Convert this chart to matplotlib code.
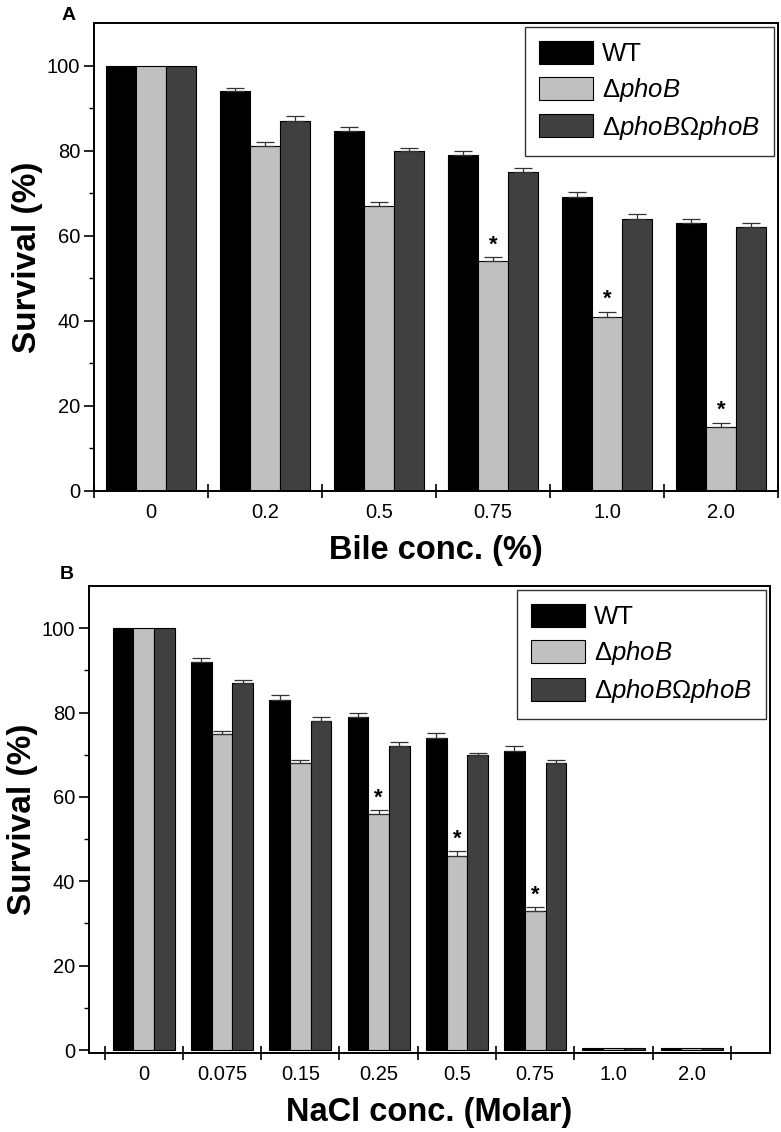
import numpy as np
import matplotlib
matplotlib.use("Agg")
from matplotlib import pyplot as plt
from matplotlib.ticker import FixedLocator

plt.rcParams['font.family'] = ['Liberation Sans', 'DejaVu Sans']
plt.rcParams['mathtext.fontset'] = 'custom'
plt.rcParams['mathtext.rm'] = 'Liberation Sans'
plt.rcParams['mathtext.it'] = 'Liberation Sans:italic'

# panel A: bile
bile_labels = ["0", "0.2", "0.5", "0.75", "1.0", "2.0"]
bile_wt = [100, 94, 84.5, 79, 69, 63]
bile_wt_err = [0, 0.8, 1.0, 0.9, 1.2, 1.0]
bile_pho = [100, 81, 67, 54, 41, 15]
bile_pho_err = [0, 1.0, 1.0, 1.0, 1.1, 1.0]
bile_comp = [100, 87, 80, 75, 64, 62]
bile_comp_err = [0, 1.1, 0.6, 0.8, 1.2, 1.0]
bile_star = [False, False, False, True, True, True]

# panel B: NaCl
nacl_labels = ["0", "0.075", "0.15", "0.25", "0.5", "0.75", "1.0", "2.0"]
nacl_wt = [100, 92, 83, 79, 74, 71, 0.5, 0.5]
nacl_wt_err = [0, 1.0, 1.1, 0.9, 1.2, 1.1, 0, 0]
nacl_pho = [100, 75, 68, 56, 46, 33, 0.5, 0.5]
nacl_pho_err = [0, 0.6, 0.8, 0.9, 1.1, 0.9, 0, 0]
nacl_comp = [100, 87, 78, 72, 70, 68, 0.5, 0.5]
nacl_comp_err = [0, 0.8, 0.9, 1.0, 0.5, 0.8, 0, 0]
nacl_star = [False, False, False, True, True, True, False, False]

series_names = ["WT", r"$\Delta\mathit{phoB}$", r"$\Delta\mathit{phoB}\Omega\mathit{phoB}$"]
colors = ["#000000", "#c0c0c0", "#404040"]


def draw_panel(ax, labels, vals, errs, stars, xlim, ylim, xlabel):
    x = np.arange(len(labels))
    w = 0.265
    for i, (v, e, c, name) in enumerate(zip(vals, errs, colors, series_names)):
        pos = x + (i - 1) * w
        ax.bar(pos, v, w, color=c, edgecolor="black", linewidth=0.8, label=name, zorder=2)
        mask = np.array(e) > 0
        ax.errorbar(pos[mask], np.array(v)[mask], yerr=[np.zeros(mask.sum()), np.array(e)[mask]],
                    fmt="none", ecolor="#333333", elinewidth=0.9, capsize=6.5, capthick=0.9, zorder=3)
    # stars over the mutant bars
    pho = vals[1]
    pho_e = errs[1]
    for j, s in enumerate(stars):
        if s:
            ax.text(x[j], pho[j] + pho_e[j] + 0.4, "*", ha="center", va="bottom",
                    fontsize=16, fontweight="bold")

    ax.set_xlim(*xlim)
    ax.set_ylim(*ylim)
    ax.set_xticks(x)
    ax.set_xticklabels(labels, fontsize=14.5)
    ax.tick_params(axis="x", which="major", length=0, pad=9)
    ax.xaxis.set_minor_locator(FixedLocator(np.arange(len(labels) + 1) - 0.5))
    ax.tick_params(axis="x", which="minor", direction="inout", length=10, width=1.2)
    ax.set_yticks([0, 20, 40, 60, 80, 100])
    ax.tick_params(axis="y", which="major", direction="out", length=7, width=1.2,
                   labelsize=14.5, pad=3)
    ax.yaxis.set_minor_locator(FixedLocator([10, 30, 50, 70, 90]))
    ax.tick_params(axis="y", which="minor", direction="out", length=3.5, width=1.0)
    for sp in ax.spines.values():
        sp.set_linewidth(1.4)
    ax.set_ylabel("Survival (%)", fontsize=24, fontweight="bold", labelpad=3)
    ax.set_xlabel(xlabel, fontsize=23.5, fontweight="bold", labelpad=9)
    leg = ax.legend(loc="upper right", fontsize=18.5, frameon=True, fancybox=False,
                    edgecolor="black", handlelength=2.1, handleheight=1.0,
                    borderaxespad=0.15, labelspacing=0.38, handletextpad=0.35,
                    borderpad=0.55)
    leg.get_frame().set_linewidth(1.0)


fig = plt.figure(figsize=(7.81, 11.32), dpi=100)
ax1 = fig.add_axes([0.1204, 0.5663, 0.8758, 0.4134])
ax2 = fig.add_axes([0.1140, 0.0698, 0.8719, 0.4125])

draw_panel(ax1, bile_labels, [bile_wt, bile_pho, bile_comp],
           [bile_wt_err, bile_pho_err, bile_comp_err], bile_star,
           (-0.5, 5.5), (0, 110), "Bile conc. (%)")
draw_panel(ax2, nacl_labels, [nacl_wt, nacl_pho, nacl_comp],
           [nacl_wt_err, nacl_pho_err, nacl_comp_err], nacl_star,
           (-0.7, 8.0), (-0.7, 110), "NaCl conc. (Molar)")

fig.text(62 / 781, 1 - 15 / 1132, "A", fontsize=14, fontweight="bold", va="center")
fig.text(60 / 781, 1 - 575 / 1132, "B", fontsize=14, fontweight="bold", va="center")

fig.savefig("out.png", dpi=100)
